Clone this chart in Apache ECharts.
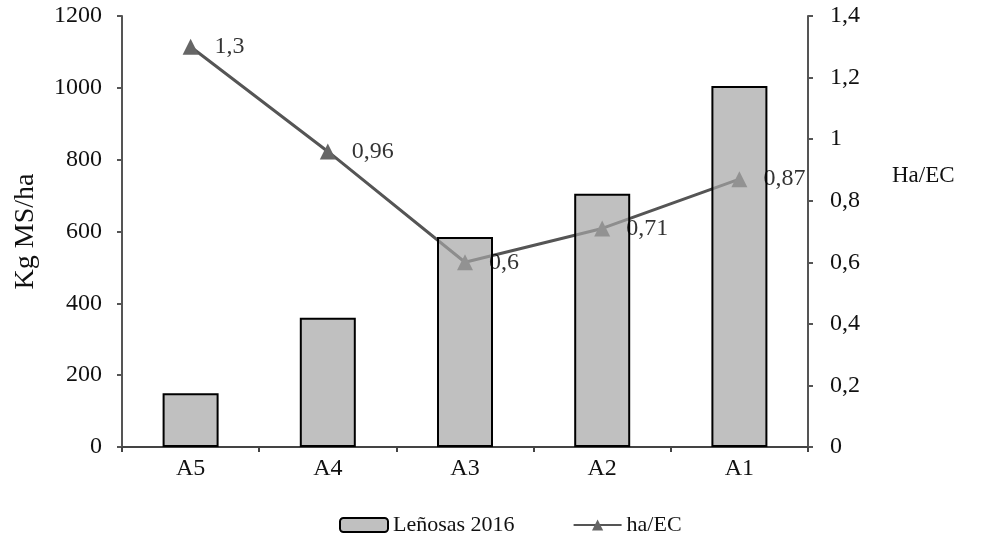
<!DOCTYPE html>
<html>
<head>
<meta charset="utf-8">
<script src="https://cdn.jsdelivr.net/npm/echarts@6/dist/echarts.min.js"></script>
<style>html,body{margin:0;padding:0;background:#fff}#c{width:988px;height:546px}</style>
</head>
<body>
<div id="c"></div>
<script>
const categories = ['A5', 'A4', 'A3', 'A2', 'A1'];
const barValues = [150, 360, 585, 705, 1005];
const lineValues = [1.3, 0.96, 0.6, 0.71, 0.87];
const barName = 'Leñosas 2016';
const lineName = 'ha/EC';
const leftAxisName = 'Kg MS/ha';
const rightAxisName = 'Ha/EC';

const FONT = '"Liberation Serif", "DejaVu Serif", serif';
const comma = v => String(v).replace('.', ',');

const chart = echarts.init(document.getElementById('c'));
chart.setOption({
  animation: false,
  textStyle: { fontFamily: FONT },
  grid: { left: 122, right: 180, top: 16, bottom: 99 },
  legend: {
    data: [barName, lineName],
    bottom: 5,
    left: 334,
    itemWidth: 48,
    itemHeight: 14,
    itemGap: 58,
    textStyle: { fontFamily: FONT, fontSize: 22, color: '#111' }
  },
  graphic: [{
    type: 'text',
    left: 892,
    top: 164,
    style: { text: rightAxisName, font: '23px ' + FONT, fill: '#111' }
  }],
  xAxis: {
    type: 'category',
    data: categories,
    axisLine: { lineStyle: { color: '#444', width: 2 } },
    axisTick: { show: true, length: 5, lineStyle: { color: '#444', width: 2 } },
    axisLabel: { fontFamily: FONT, fontSize: 24, color: '#111', margin: 10 }
  },
  yAxis: [{
    type: 'value',
    min: 0, max: 1200, interval: 200,
    name: leftAxisName,
    nameLocation: 'middle',
    nameRotate: 90,
    nameGap: 82,
    nameTextStyle: { fontFamily: FONT, fontSize: 28, color: '#111' },
    axisLine: { show: true, lineStyle: { color: '#555', width: 2 } },
    axisTick: { show: true, length: 5, lineStyle: { color: '#555', width: 2 } },
    splitLine: { show: false },
    axisLabel: { fontFamily: FONT, fontSize: 24, color: '#111', margin: 20,
      formatter: v => String(v) }
  }, {
    type: 'value',
    min: 0, max: 1.4, interval: 0.2,
    position: 'right',
    axisLine: { show: true, lineStyle: { color: '#555', width: 2 } },
    axisTick: { show: true, length: 5, lineStyle: { color: '#555', width: 2 } },
    splitLine: { show: false },
    axisLabel: { fontFamily: FONT, fontSize: 24, color: '#111', margin: 22,
      formatter: v => comma(Math.round(v * 10) / 10) }
  }],
  series: [{
    name: barName,
    type: 'bar',
    data: barValues,
    barWidth: 56,
    z: 3,
    itemStyle: { color: 'rgba(165,165,165,0.7)', borderColor: '#000', borderWidth: 2 }
  }, {
    name: lineName,
    type: 'line',
    yAxisIndex: 1,
    data: lineValues,
    z: 2,
    symbol: 'triangle',
    symbolSize: 16,
    lineStyle: { color: '#555', width: 3 },
    itemStyle: { color: '#666' }
  }, {
    name: 'labels',
    type: 'scatter',
    yAxisIndex: 1,
    data: lineValues,
    symbolSize: 16,
    itemStyle: { color: 'rgba(0,0,0,0)' },
    silent: true,
    z: 6,
    label: {
      show: true,
      position: 'right',
      distance: 16,
      fontFamily: FONT,
      fontSize: 24,
      color: '#000',
      formatter: p => comma(p.value)
    }
  }]
});
</script>
</body>
</html>
